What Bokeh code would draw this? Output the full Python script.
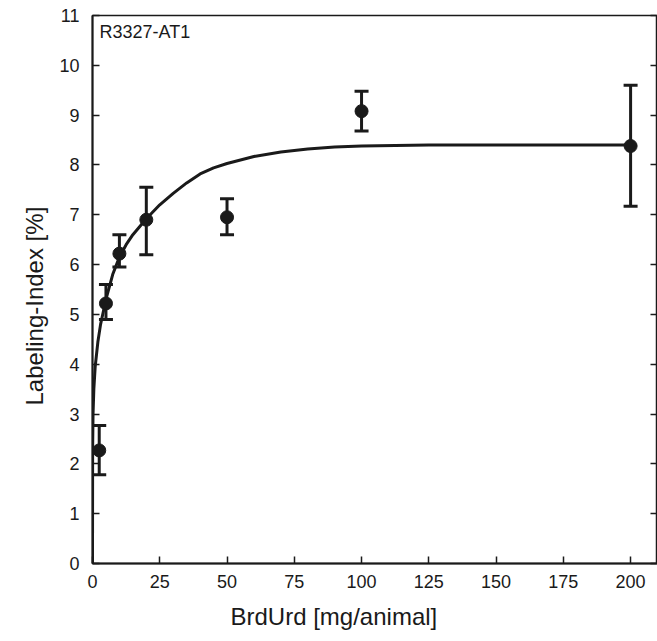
from bokeh.plotting import figure
from bokeh.models import ColumnDataSource, Whisker, TeeHead, LinearAxis, FixedTicker, Label, Range1d, Title
from bokeh.embed import file_html
from bokeh.resources import INLINE

# measured points
dose = [2.5, 5, 10, 20, 50, 100, 200]
li = [2.27, 5.22, 6.22, 6.90, 6.95, 9.08, 8.38]
li_lo = [1.78, 4.90, 5.95, 6.20, 6.60, 8.68, 7.17]
li_hi = [2.77, 5.60, 6.60, 7.55, 7.32, 9.48, 9.60]

# fitted curve
fit_x = [0, 0.05, 0.2, 0.5, 1, 2, 3, 5, 7.5, 10, 12.5, 15, 20, 25, 30, 35, 40, 45, 50, 60, 70, 80, 90, 100, 125, 150, 200]
fit_y = [0, 2.3, 3.0, 3.5, 3.95, 4.45, 4.8, 5.3, 5.8, 6.15, 6.4, 6.6, 6.92, 7.2, 7.43, 7.64, 7.82, 7.94, 8.03, 8.17, 8.26, 8.32, 8.36, 8.38, 8.4, 8.4, 8.4]

x_ticks = [0, 25, 50, 75, 100, 125, 150, 175, 200]
y_ticks = list(range(0, 12))

x_title = "BrdUrd [mg/animal]"
y_title = "Labeling-Index [%]"
panel_tag = "R3327-AT1"

INK = "#1a1a1a"
FONT = "Liberation Sans"

p = figure(width=657, height=641, output_backend="svg", toolbar_location=None,
           x_range=Range1d(0, 210), y_range=Range1d(0, 11),
           min_border_left=92, min_border_top=15, min_border_bottom=78, min_border_right=0)
p.xgrid.visible = False
p.ygrid.visible = False
p.outline_line_color = INK
p.outline_line_width = 1.5
p.background_fill_color = "white"
p.border_fill_color = "white"

for ax in (p.xaxis[0], p.yaxis[0]):
    ax.axis_line_color = INK
    ax.axis_line_width = 2
    ax.major_tick_in = 7
    ax.major_tick_out = 0
    ax.major_tick_line_color = INK
    ax.major_tick_line_width = 1.5
    ax.minor_tick_line_color = None
    ax.major_label_text_font = FONT
    ax.major_label_text_font_size = "18px"
    ax.major_label_text_color = INK

p.xaxis[0].ticker = FixedTicker(ticks=x_ticks)
p.yaxis[0].ticker = FixedTicker(ticks=y_ticks)
p.xaxis[0].major_label_standoff = 11
p.yaxis[0].major_label_standoff = 13

right = LinearAxis(ticker=FixedTicker(ticks=y_ticks))
right.major_tick_in = 7
right.major_tick_out = 0
right.major_tick_line_color = INK
right.major_tick_line_width = 1.5
right.minor_tick_line_color = None
right.axis_line_color = INK
right.axis_line_width = 1.5
right.major_label_text_color = None
right.major_label_standoff = 0
p.add_layout(right, "right")

p.line(fit_x, fit_y, line_color=INK, line_width=3)

src = ColumnDataSource(dict(x=dose, y=li, lo=li_lo, hi=li_hi))
w = Whisker(source=src, base="x", upper="hi", lower="lo",
            line_color=INK, line_width=3,
            upper_head=TeeHead(size=14, line_color=INK, line_width=3),
            lower_head=TeeHead(size=14, line_color=INK, line_width=3))
p.add_layout(w)
p.scatter("x", "y", source=src, size=13, fill_color=INK, line_color=INK)

p.add_layout(Label(x=2.6, y=10.66, text=panel_tag, text_font=FONT, text_font_size="18px",
                   text_color=INK, text_baseline="middle", text_align="left"))

# axis titles (off-centre in the reference)
xt = Title(text=x_title, align="left", offset=138, standoff=21,
           text_font=FONT, text_font_size="24px", text_font_style="normal", text_color=INK)
p.add_layout(xt, "below")
yt = Title(text=y_title, align="left", offset=158, standoff=17,
           text_font=FONT, text_font_size="24px", text_font_style="normal", text_color=INK)
p.add_layout(yt, "left")

open("out.html", "w").write(file_html(p, INLINE))
